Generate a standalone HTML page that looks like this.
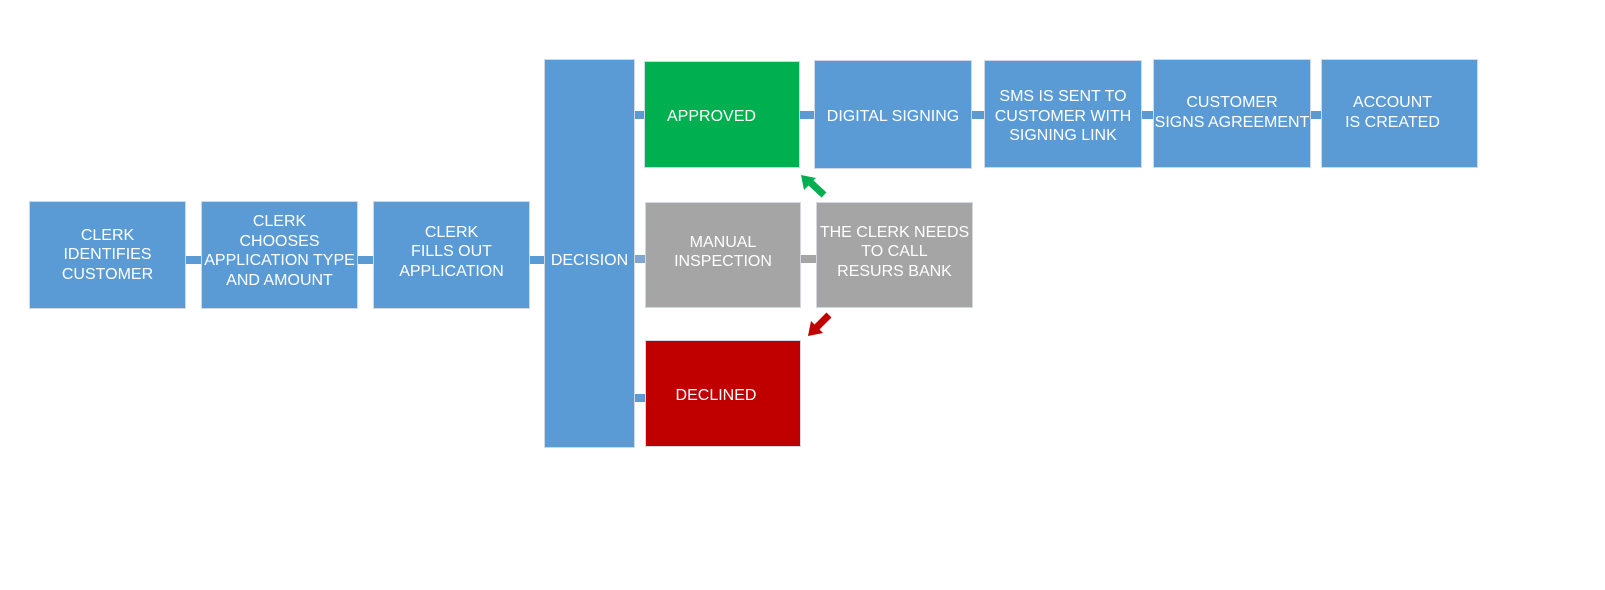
<!DOCTYPE html>
<html><head><style>
body{margin:0;width:1605px;height:590px;background:#fff;position:relative;overflow:hidden;font-family:"Liberation Sans",Arial,sans-serif}
.b{position:absolute;display:flex;align-items:center;justify-content:center;text-align:center;color:#fff;font-size:16px;line-height:19.5px;box-sizing:border-box;border:1px solid #cfd8e3;white-space:nowrap}
.bl{background:#5b9bd5}.g{background:#00b050}.gr{background:#a5a5a5}.r{background:#c00000}
.c{position:absolute;background:#5b9bd5;height:8px}
.t{padding-top:5px}
</style></head><body>
<div class="c" style="left:180px;top:256px;width:370px"></div>
<div class="c" style="left:630px;top:111px;width:20px"></div>
<div class="c" style="left:630px;top:255px;width:20px;background:#7fa7d0"></div>
<div class="c" style="left:630px;top:394px;width:20px"></div>
<div class="c" style="left:795px;top:111px;width:530px"></div>
<div class="c" style="left:795px;top:255px;width:25px;background:#a5a5a5"></div>

<div class="b bl" style="left:29px;top:201px;width:157px;height:108px">CLERK<br>IDENTIFIES<br>CUSTOMER</div>
<div class="b bl" style="left:201px;top:201px;width:157px;height:108px;padding-bottom:8px">CLERK<br>CHOOSES<br>APPLICATION TYPE<br>AND AMOUNT</div>
<div class="b bl" style="left:373px;top:201px;width:157px;height:108px;padding-bottom:6px">CLERK<br>FILLS OUT<br>APPLICATION</div>
<div class="b bl" style="left:544px;top:59px;width:91px;height:389px;padding-top:14px">DECISION</div>
<div class="b g t" style="left:644px;top:61px;width:156px;height:107px;justify-content:flex-start;padding-left:22px">APPROVED</div>
<div class="b gr" style="left:645px;top:202px;width:156px;height:106px;padding-bottom:6px">MANUAL<br>INSPECTION</div>
<div class="b r" style="left:645px;top:340px;width:156px;height:107px;padding-right:14px;padding-top:4px">DECLINED</div>
<div class="b gr" style="left:816px;top:202px;width:157px;height:106px;padding-bottom:6px">THE CLERK NEEDS<br>TO CALL<br>RESURS BANK</div>
<div class="b bl t" style="left:814px;top:60px;width:158px;height:109px">DIGITAL SIGNING</div>
<div class="b bl t" style="left:984px;top:60px;width:158px;height:108px">SMS IS SENT TO<br>CUSTOMER WITH<br>SIGNING LINK</div>
<div class="b bl" style="left:1153px;top:59px;width:158px;height:109px;padding-bottom:2px">CUSTOMER<br>SIGNS AGREEMENT</div>
<div class="b bl" style="left:1321px;top:59px;width:157px;height:109px;padding-bottom:2px;padding-right:14px">ACCOUNT<br>IS CREATED</div>

<svg width="1605" height="590" style="position:absolute;left:0;top:0">
<line x1="824" y1="195" x2="810" y2="182" stroke="#00b050" stroke-width="7"/>
<polygon points="801,175 816,178 804,190" fill="#00b050"/>
<line x1="829" y1="315" x2="816" y2="328" stroke="#c00000" stroke-width="7"/>
<polygon points="808,336 811,321 823,333" fill="#c00000"/>
</svg>
</body></html>
